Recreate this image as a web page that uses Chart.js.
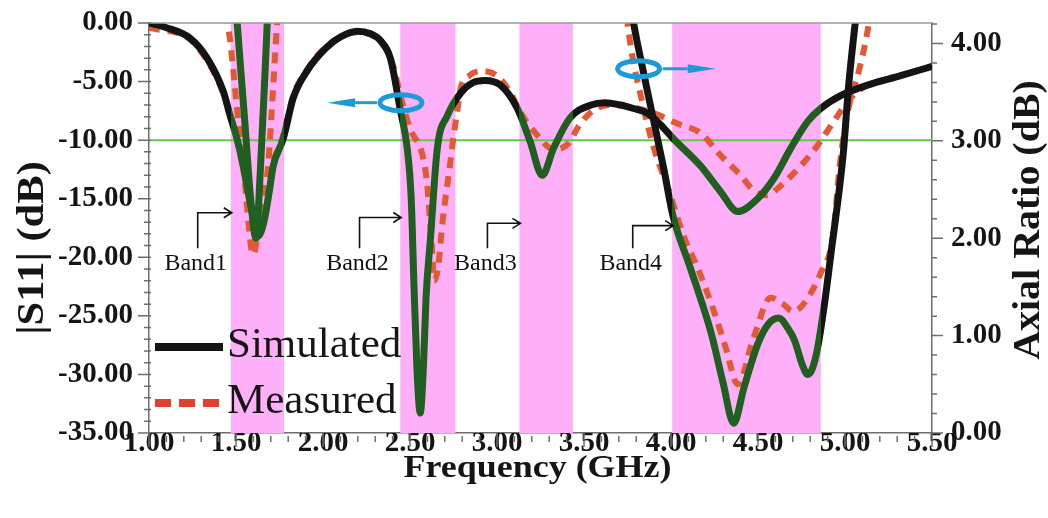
<!DOCTYPE html>
<html>
<head>
<meta charset="utf-8">
<script src="https://cdn.jsdelivr.net/npm/chart.js@4.4.1/dist/chart.umd.min.js"></script>
<style>
  html, body { margin: 0; padding: 0; background: #fff; }
</style>
</head>
<body>
<canvas id="myChart" width="1048" height="518"></canvas>
<script>
// ============  |S11| + Axial Ratio chart ============ //

// values (frequency in GHz)
const simS11Freq = [1.00, 1.10, 1.236, 1.334, 1.426, 1.466, 1.506, 1.55, 1.59, 1.627, 1.66, 1.69, 1.714, 1.771, 1.829, 1.908, 2.02, 2.10, 2.197, 2.27, 2.33, 2.387, 2.444, 2.484, 2.507, 2.522, 2.54, 2.559, 2.578, 2.592, 2.617, 2.657, 2.715, 2.79, 2.86, 2.93, 3.02, 3.117, 3.19, 3.26, 3.325, 3.42, 3.54, 3.62, 3.71, 3.785, 3.865, 3.96, 4.015, 4.17, 4.285, 4.383, 4.498, 4.59, 4.688, 4.786, 4.86, 4.975, 5.13, 5.32, 5.50];
const simS11 = [0.0, -0.4, -1.3, -3.0, -5.8, -7.9, -9.9, -12.8, -16.0, -18.2, -17.0, -14.5, -12.2, -9.9, -6.4, -4.1, -2.1, -1.2, -0.7, -0.9, -1.5, -3.0, -7.4, -10.7, -15.0, -22.0, -29.5, -33.3, -29.0, -23.5, -18.5, -10.7, -7.9, -6.0, -5.1, -4.9, -5.3, -7.3, -10.1, -13.0, -10.7, -8.1, -7.0, -6.8, -7.0, -7.3, -7.7, -9.0, -9.9, -12.2, -14.4, -16.1, -15.0, -13.3, -10.7, -8.4, -7.3, -6.2, -5.3, -4.5, -3.7];

const measS11Freq = [1.00, 1.236, 1.334, 1.426, 1.506, 1.59, 1.627, 1.66, 1.714, 1.771, 1.829, 1.908, 2.02, 2.197, 2.33, 2.40, 2.45, 2.50, 2.577, 2.60, 2.625, 2.64, 2.66, 2.69, 2.73, 2.75, 2.772, 2.79, 2.84, 2.915, 3.00, 3.08, 3.13, 3.21, 3.33, 3.41, 3.47, 3.55, 3.65, 3.78, 3.90, 4.04, 4.17, 4.285, 4.40, 4.475, 4.55, 4.63, 4.745, 4.84, 4.92, 5.016, 5.06, 5.13, 5.32, 5.50];
const measS11 = [-0.4, -1.4, -3.2, -6.0, -10.0, -16.0, -17.8, -16.8, -12.0, -9.6, -6.2, -4.0, -2.0, -0.8, -1.6, -3.5, -6.5, -9.0, -11.6, -14.0, -19.0, -22.0, -21.0, -16.6, -12.1, -9.7, -7.5, -5.6, -4.5, -4.1, -4.5, -6.0, -7.5, -9.2, -10.8, -10.3, -8.8, -7.5, -7.0, -7.2, -7.7, -8.6, -9.4, -11.3, -13.0, -14.3, -14.7, -13.9, -12.2, -10.5, -8.75, -6.7, -6.0, -5.3, -4.5, -3.7];

// axial ratio runs off the top of the plot outside the bands
const simARFreq = [1.00, 1.45, 1.50, 1.506, 1.55, 1.585, 1.615, 1.64, 1.668, 1.68, 1.70, 1.75, 3.70, 3.76, 3.785, 3.84, 3.90, 3.96, 4.01, 4.11, 4.23, 4.30, 4.36, 4.42, 4.50, 4.56, 4.62, 4.67, 4.71, 4.755, 4.785, 4.81, 4.84, 4.88, 4.92, 4.99, 5.02, 5.06, 5.10, 5.50];
const simAR = [6.0, 5.5, 4.4, 4.23, 3.21, 2.39, 2.0, 2.7, 3.75, 4.23, 5.0, 5.5, 5.5, 4.5, 4.21, 3.72, 3.21, 2.70, 2.24, 1.70, 1.03, 0.51, 0.10, 0.47, 0.92, 1.12, 1.18, 1.08, 0.95, 0.70, 0.60, 0.65, 0.85, 1.30, 1.85, 2.87, 3.55, 4.23, 4.8, 6.0];

const measARFreq = [1.00, 1.42, 1.455, 1.47, 1.506, 1.552, 1.598, 1.627, 1.656, 1.685, 1.705, 1.722, 1.736, 1.76, 1.80, 3.70, 3.75, 3.842, 3.911, 3.986, 4.067, 4.159, 4.245, 4.314, 4.383, 4.475, 4.573, 4.64, 4.70, 4.75, 4.86, 4.93, 4.97, 5.016, 5.08, 5.13, 5.17, 5.50];
const measAR = [6.0, 5.5, 4.21, 3.98, 3.33, 2.55, 1.83, 2.05, 2.36, 2.75, 3.3, 3.8, 4.21, 4.8, 5.5, 5.2, 4.21, 3.34, 2.87, 2.5, 2.05, 1.67, 1.26, 0.88, 0.5, 0.98, 1.39, 1.33, 1.25, 1.30, 1.64, 2.01, 2.75, 3.3, 3.72, 4.13, 4.6, 6.0];

// CP bands (GHz)
const bandNames = ['Band1', 'Band2', 'Band3', 'Band4'];
const bandStart = [1.47, 2.444, 3.129, 4.007];
const bandEnd = [1.776, 2.761, 3.436, 4.861];

const s11Limit = -10;

// tick labels
const freqTicks = [1.0, 1.5, 2.0, 2.5, 3.0, 3.5, 4.0, 4.5, 5.0, 5.5];
const s11Ticks = [0, -5, -10, -15, -20, -25, -30, -35];
const arTicks = [0, 1, 2, 3, 4];

// colours
const simColor = '#141414';
const inBandColor = '#1F5F1F';
const measColor = '#E25A35';
const bandFill = '#FDB0F8';
const limitColor = '#63C64A';
const cpBlue = '#1C9BD8';
const axisColor = '#6E6E6E';
const textColor = '#151515';
const serif = '"Liberation Serif", "Times New Roman", serif';

const pts = (xs, ys) => xs.map((x, i) => ({ x: x, y: ys[i] }));

// black outside the bands, dark green inside
function bandStroke(context) {
    const chart = context.chart;
    const { ctx, chartArea, scales } = chart;
    if (!chartArea || !scales.x) return simColor;
    const w = chartArea.right - chartArea.left;
    const pos = v => Math.min(1, Math.max(0, (scales.x.getPixelForValue(v) - chartArea.left) / w));
    const g = ctx.createLinearGradient(chartArea.left, 0, chartArea.right, 0);
    g.addColorStop(0, simColor);
    bandStart.forEach((s, i) => {
        g.addColorStop(pos(s), simColor);
        g.addColorStop(pos(s), inBandColor);
        g.addColorStop(pos(bandEnd[i]), inBandColor);
        g.addColorStop(pos(bandEnd[i]), simColor);
    });
    g.addColorStop(1, simColor);
    return g;
}

// pink bands behind the curves
const bandsPlugin = {
    id: 'bands',
    beforeDatasetsDraw(chart) {
        const { ctx, chartArea: a, scales: { x } } = chart;
        ctx.save();
        ctx.fillStyle = bandFill;
        bandStart.forEach((s, i) => {
            const x0 = x.getPixelForValue(s);
            const x1 = x.getPixelForValue(bandEnd[i]);
            ctx.fillRect(x0, a.top, x1 - x0, a.bottom - a.top);
        });
        ctx.restore();
    }
};

function stretchedText(ctx, text, cx, cy, rot, size, sx) {
    ctx.save();
    ctx.translate(cx, cy);
    ctx.rotate(rot);
    ctx.scale(sx, 1);
    ctx.font = 'bold ' + size + 'px ' + serif;
    ctx.fillStyle = textColor;
    ctx.textAlign = 'center';
    ctx.textBaseline = 'middle';
    ctx.fillText(text, 0, 0);
    ctx.restore();
}

// ellipse with an arrow pointing to the axis the curve belongs to (dir -1 = left, 1 = right)
function cpArrow(ctx, cx, cy, dir, tipX) {
    ctx.save();
    ctx.strokeStyle = cpBlue;
    ctx.fillStyle = cpBlue;
    ctx.lineWidth = 5;
    ctx.beginPath();
    ctx.ellipse(cx, cy, 21, 8, 0, 0, Math.PI * 2);
    ctx.stroke();
    const edge = cx + dir * 24;
    const headBase = tipX - dir * 28;
    ctx.lineWidth = 3;
    ctx.beginPath();
    ctx.moveTo(edge, cy);
    ctx.lineTo(headBase, cy);
    ctx.stroke();
    ctx.beginPath();
    ctx.moveTo(tipX, cy);
    ctx.lineTo(headBase, cy - 4.5);
    ctx.lineTo(headBase, cy + 4.5);
    ctx.closePath();
    ctx.fill();
    ctx.restore();
}

// band labels, CP arrows, legend, minor ticks, titles
const decorPlugin = {
    id: 'decor',
    afterDatasetsDraw(chart) {
        const { ctx, chartArea: a, scales: { x, y, y1 } } = chart;

        // band labels with bent arrows
        const arrowDb = [-16.2, -16.6, -17.1, -17.3];
        const labelFreq = [1.28, 2.21, 2.945, 3.78];
        ctx.save();
        ctx.strokeStyle = '#111';
        ctx.fillStyle = '#111';
        ctx.lineWidth = 1.6;
        ctx.font = '24px ' + serif;
        ctx.textAlign = 'center';
        ctx.textBaseline = 'alphabetic';
        bandNames.forEach((name, i) => {
            const tipX = x.getPixelForValue(bandStart[i]) + 1;
            const tipY = y.getPixelForValue(arrowDb[i]);
            const stemX = x.getPixelForValue(labelFreq[i]);
            const baseY = y.getPixelForValue(-21.1);
            ctx.beginPath();
            ctx.moveTo(stemX, baseY - 22);
            ctx.lineTo(stemX, tipY);
            ctx.lineTo(tipX, tipY);
            ctx.moveTo(tipX - 8, tipY - 5);
            ctx.lineTo(tipX, tipY);
            ctx.lineTo(tipX - 8, tipY + 5);
            ctx.stroke();
            ctx.fillText(name, stemX - 2, baseY);
        });
        ctx.restore();

        // which axis each curve uses
        cpArrow(ctx, x.getPixelForValue(2.448), y.getPixelForValue(-6.8), -1, x.getPixelForValue(2.024));
        cpArrow(ctx, x.getPixelForValue(3.814), y1.getPixelForValue(3.74), 1, x.getPixelForValue(4.257));

        // legend inside the plot
        const items = chart.data.datasets.filter(d => d.inLegend);
        items.forEach((d, i) => {
            const ly = a.top + 324 + i * 56;
            ctx.save();
            ctx.strokeStyle = d.legendColor;
            ctx.lineWidth = 8;
            ctx.setLineDash(d.legendDash);
            ctx.beginPath();
            ctx.moveTo(a.left + 6, ly);
            ctx.lineTo(a.left + 74, ly);
            ctx.stroke();
            ctx.setLineDash([]);
            ctx.fillStyle = textColor;
            ctx.font = '43px ' + serif;
            ctx.textBaseline = 'alphabetic';
            ctx.fillText(d.label, a.left + 78, ly + 10);
            ctx.restore();
        });
    },
    afterDraw(chart) {
        const { ctx, chartArea: a, scales: { x, y, y1 } } = chart;
        ctx.save();
        ctx.strokeStyle = '#9A9A9A';
        ctx.lineWidth = 1.5;
        ctx.beginPath();
        ctx.moveTo(a.left, a.top);
        ctx.lineTo(a.right, a.top);
        ctx.stroke();

        ctx.strokeStyle = axisColor;
        ctx.lineWidth = 1.5;
        ctx.beginPath();
        for (let i = 0; i <= 45; i++) {
            const px = x.getPixelForValue(1 + i * 0.1);
            const major = i % 5 === 0;
            ctx.moveTo(px, a.bottom + (major ? 0 : 3));
            ctx.lineTo(px, a.bottom + (major ? 14 : 9));
        }
        for (let i = 0; i <= 35; i++) {
            const py = y.getPixelForValue(-i);
            const major = i % 5 === 0;
            ctx.moveTo(a.left - (major ? 11 : 5), py);
            ctx.lineTo(a.left + 2, py);
        }
        for (let i = 0; i <= 21; i++) {
            const py = y1.getPixelForValue(i * 0.2);
            if (py < a.top) break;
            const major = i % 5 === 0;
            ctx.moveTo(a.right, py);
            ctx.lineTo(a.right + (major ? 11 : 5), py);
        }
        ctx.stroke();
        ctx.restore();

        // axis titles
        stretchedText(ctx, 'Frequency (GHz)', (a.left + a.right) / 2 - 3, a.bottom + 36, 0, 31, 1.16);
        stretchedText(ctx, '|S11| (dB)', 33, a.top + 225, -Math.PI / 2, 37, 1.15);
        stretchedText(ctx, 'Axial Ratio (dB)', 1029, a.top + 197, -Math.PI / 2, 37, 1.08);
    }
};

const tickFont = { family: serif, size: 29, weight: 'bold' };

// fixed axis sizes so the plot sits where it does in the figure
const fixX = s => { s.height = 85; s.paddingLeft = 0; s.paddingRight = 0; };
const fixY = w => s => { s.width = w; s.paddingTop = 0; s.paddingBottom = 0; };

const myChart = new Chart(document.getElementById('myChart').getContext('2d'), {
    type: 'line',
    data: {
        datasets: [
            {
                label: 'Simulated',
                data: pts(simS11Freq, simS11),
                yAxisID: 'y',
                borderColor: bandStroke,
                borderWidth: 7,
                order: 0,
                inLegend: true,
                legendColor: simColor,
                legendDash: []
            },
            {
                label: 'Simulated AR',
                data: pts(simARFreq, simAR),
                yAxisID: 'y1',
                borderColor: bandStroke,
                borderWidth: 7,
                order: 1
            },
            {
                label: 'Measured',
                data: pts(measS11Freq, measS11),
                yAxisID: 'y',
                borderColor: measColor,
                borderWidth: 6,
                borderDash: [11, 8],
                order: 2,
                inLegend: true,
                legendColor: '#E0402C',
                legendDash: [16, 8]
            },
            {
                label: 'Measured AR',
                data: pts(measARFreq, measAR),
                yAxisID: 'y1',
                borderColor: measColor,
                borderWidth: 6,
                borderDash: [11, 8],
                order: 3
            },
            {
                label: '-10 dB',
                data: [{ x: freqTicks[0], y: s11Limit }, { x: freqTicks[freqTicks.length - 1], y: s11Limit }],
                yAxisID: 'y',
                borderColor: limitColor,
                borderWidth: 2,
                order: 4
            }
        ]
    },
    options: {
        responsive: false, // fixed 1048x518
        animation: false,
        layout: { padding: { top: 23, left: 0, right: 0, bottom: 0 } },
        elements: {
            point: { radius: 0 },
            line: { cubicInterpolationMode: 'monotone', borderCapStyle: 'butt', fill: false }
        },
        datasets: { line: { clip: 0 } },
        plugins: {
            legend: { display: false },
            tooltip: { enabled: false }
        },
        scales: {
            x: {
                type: 'linear',
                min: 1,
                max: 5.5,
                afterBuildTicks: s => { s.ticks = freqTicks.map(v => ({ value: v })); },
                afterFit: fixX,
                ticks: { font: tickFont, color: textColor, padding: -7, maxRotation: 0, callback: v => v.toFixed(2) },
                grid: { drawOnChartArea: false, drawTicks: false },
                border: { color: axisColor, width: 1.5 }
            },
            y: {
                position: 'left',
                min: -35,
                max: 0,
                afterBuildTicks: s => { s.ticks = s11Ticks.map(v => ({ value: v })); },
                afterFit: fixY(149),
                ticks: { font: tickFont, color: textColor, padding: 16, callback: v => v.toFixed(2) },
                grid: { drawOnChartArea: false, drawTicks: false },
                border: { color: axisColor, width: 1.5 }
            },
            y1: {
                position: 'right',
                min: 0,
                max: 4.21,
                afterBuildTicks: s => { s.ticks = arTicks.map(v => ({ value: v })); },
                afterFit: fixY(116),
                ticks: { font: tickFont, color: textColor, padding: 19, callback: v => v.toFixed(2) },
                grid: { drawOnChartArea: false, drawTicks: false },
                border: { color: axisColor, width: 1.5 }
            }
        }
    },
    plugins: [bandsPlugin, decorPlugin]
});
</script>
</body>
</html>
